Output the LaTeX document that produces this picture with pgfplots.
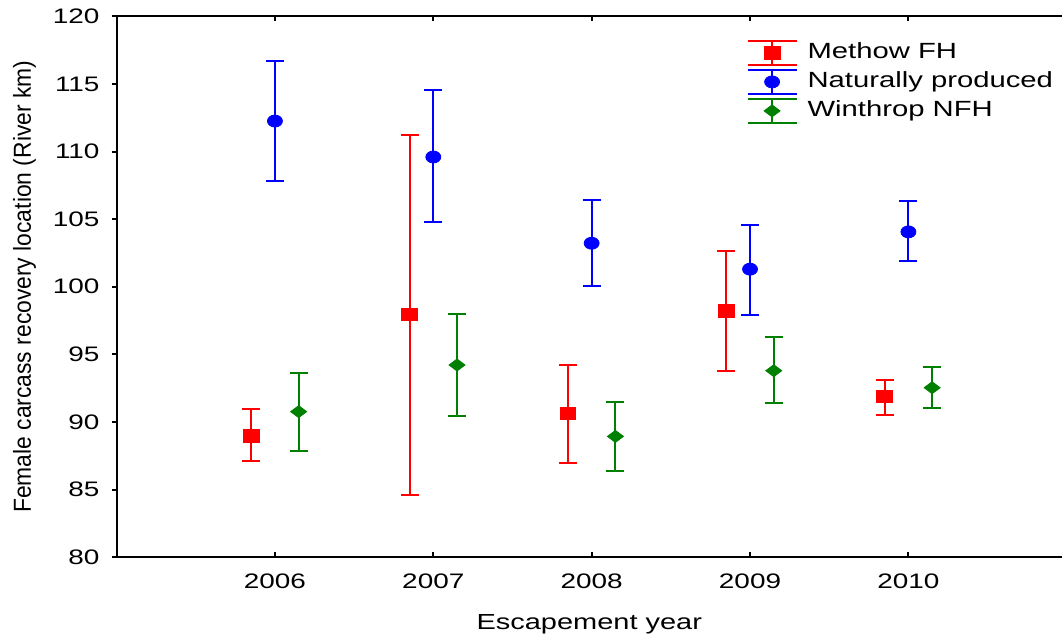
\documentclass[border=0pt]{standalone}
\usepackage{fontspec}
\setmainfont{Liberation Sans}[FakeStretch=1.33]
\newfontfamily\ylabfont{Liberation Sans}[FakeStretch=0.93]
\usepackage{pgfplots}
\pgfplotsset{compat=1.18}
\definecolor{cred}{RGB}{255,0,0}
\definecolor{cblue}{RGB}{0,0,255}
\definecolor{cgreen}{RGB}{0,128,0}

% x, mean, upper and lower half-widths of the error bars
\pgfplotstableread{
x y ep em
2005.85 88.98 1.97 1.87
2006.85 97.97 13.26 13.35
2007.85 90.63 3.60 3.67
2008.85 98.22 4.41 4.48
2009.85 91.87 1.25 1.36
}\methowdata
\pgfplotstableread{
x y ep em
2006 112.26 4.44 4.43
2007 109.60 4.93 4.80
2008 103.22 3.20 3.15
2009 101.30 3.28 3.37
2010 104.06 2.27 2.19
}\naturaldata
\pgfplotstableread{
x y ep em
2006.15 90.76 2.85 2.89
2007.15 94.21 3.76 3.75
2008.15 88.93 2.56 2.56
2009.15 93.79 2.51 2.37
2010.15 92.53 1.55 1.50
}\winthropdata

\pgfplotsset{
  ebar/.style={
    only marks, color=#1, mark options={fill=#1, draw=#1},
    error bars/y dir=both, error bars/y explicit,
    error bars/error bar style={line width=1pt, color=#1},
    error bars/error mark options={rotate=90, mark size=4.5pt, line width=1pt, color=#1},
  },
}

\begin{document}
\begin{tikzpicture}
\begin{axis}[
  scale only axis,
  width=473pt, height=270.5pt,
  xmin=2005, xmax=2010.97,
  ymin=80, ymax=120,
  axis x line*=box, axis y line*=left,
  axis line style={line width=1pt},
  xtick={2006,2007,2008,2009,2010},
  ytick={80,85,...,120},
  xtick align=inside, ytick align=outside,
  major tick length=2.5pt,
  every tick/.style={black, line width=1pt},
  /pgf/number format/set thousands separator={},
  /pgf/number format/assume math mode=true,
  tick label style={font=\fontsize{10.5}{12}\selectfont},
  xticklabel style={yshift=-5pt},
  yticklabel style={xshift=-2.5pt, inner ysep=4.5pt},
  xlabel={Escapement year},
  ylabel={Female carcass recovery location (River km)},
  xlabel style={font=\fontsize{10.9}{12}\selectfont, at={(axis description cs:0.5,0)},
    anchor=north, inner xsep=0pt, inner ysep=3.5pt, yshift=-25pt},
  ylabel style={font=\ylabfont\fontsize{12.3}{14}\selectfont, at={(axis description cs:-0.1237,0.5)},
    anchor=north, inner xsep=0pt, inner ysep=6.5pt},
  legend style={at={(rel axis cs:0.666,0.96)}, anchor=north west, draw=none, fill=none,
    inner sep=0pt, row sep=0pt, column sep=5pt,
    nodes={inner sep=0pt, text height=10pt, text depth=4.5pt},
    font=\fontsize{11}{13}\selectfont},
  legend cell align=left,
  legend image code/.code={
    \draw[#1, mark=none, line width=1pt] (0pt,-6pt) -- (0pt,6pt)
      (-12.25pt,6pt) -- (12.25pt,6pt) (-12.25pt,-6pt) -- (12.25pt,-6pt);
    \draw[#1, only marks] plot coordinates {(0pt,0pt)};
  },
]
\addplot[ebar=cred, mark=square*, mark size=4pt, mark options={yscale=0.78}]
  table[x=x, y=y, y error plus=ep, y error minus=em] {\methowdata};
\addlegendentry{Methow FH}
\addplot[ebar=cblue, mark=*, mark size=3.75pt, mark options={yscale=0.8}]
  table[x=x, y=y, y error plus=ep, y error minus=em] {\naturaldata};
\addlegendentry{Naturally produced}
\addplot[ebar=cgreen, mark=diamond*, mark size=4pt, mark options={rotate=90}]
  table[x=x, y=y, y error plus=ep, y error minus=em] {\winthropdata};
\addlegendentry{Winthrop NFH}
\end{axis}
\end{tikzpicture}
\end{document}
